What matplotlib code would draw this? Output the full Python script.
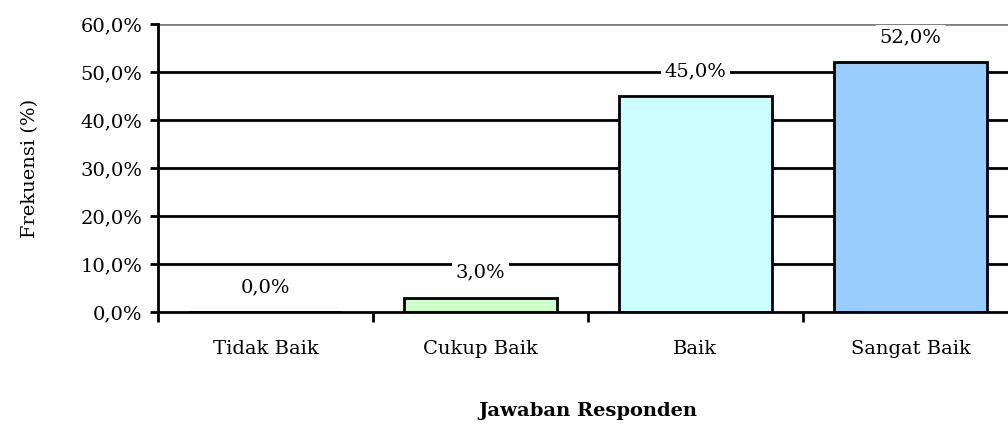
import matplotlib.pyplot as plt
import numpy as np
from matplotlib.ticker import FixedLocator

plt.rcParams['font.family'] = ['DejaVu Serif']

categories = ["Tidak Baik", "Cukup Baik", "Baik", "Sangat Baik"]
values = [0.0, 3.0, 45.0, 52.0]
colors = ["#FFFFFF", "#CCFFCC", "#CCFFFF", "#99CCFF"]
yticks = [0, 10, 20, 30, 40, 50, 60]

FS = 14

fig = plt.figure(figsize=(10.08, 4.25), dpi=100)
ax = fig.add_axes([158 / 1008, 1 - 312 / 425, 860 / 1008, 288 / 425])

x = np.arange(len(categories))
ax.bar(x, values, width=0.71, color=colors, edgecolor="black", linewidth=2, zorder=3)

# gridlines (top one grey, like Excel)
for t in yticks[1:]:
    ax.axhline(t, color="#808080" if t == 60 else "black", linewidth=2, zorder=1)

for xi, v in zip(x, values):
    ax.annotate(f"{v:.1f}%".replace(".", ","), (xi, v), xytext=(0, 18), textcoords="offset points",
                ha="center", va="center", fontsize=FS,
                bbox=dict(boxstyle="square,pad=0.2", fc="white", ec="none"), zorder=4)

ax.set_xlim(-0.5, len(categories) - 0.5)
ax.set_ylim(0, 60)
ax.set_yticks(yticks)
ax.set_yticklabels([f"{t:.1f}%".replace(".", ",") for t in yticks], fontsize=FS)
ax.set_xticks(x)
ax.set_xticklabels(categories, fontsize=FS)
ax.xaxis.set_minor_locator(FixedLocator(np.arange(len(categories) + 1) - 0.5))
ax.tick_params(axis="x", which="major", length=0, pad=20)
ax.tick_params(axis="x", which="minor", length=7, width=2, direction="out")
ax.tick_params(axis="y", length=6, width=2, direction="out", pad=5)

for s in ["top", "right"]:
    ax.spines[s].set_visible(False)
ax.spines["left"].set_linewidth(2)
ax.spines["bottom"].set_linewidth(2)
ax.spines["bottom"].set_zorder(5)

ax.set_ylabel("Frekuensi (%)", fontsize=FS, labelpad=30)
ax.set_xlabel("Jawaban Responden", fontsize=FS, fontweight="bold", labelpad=32)

fig.savefig("out.png", dpi=100)
